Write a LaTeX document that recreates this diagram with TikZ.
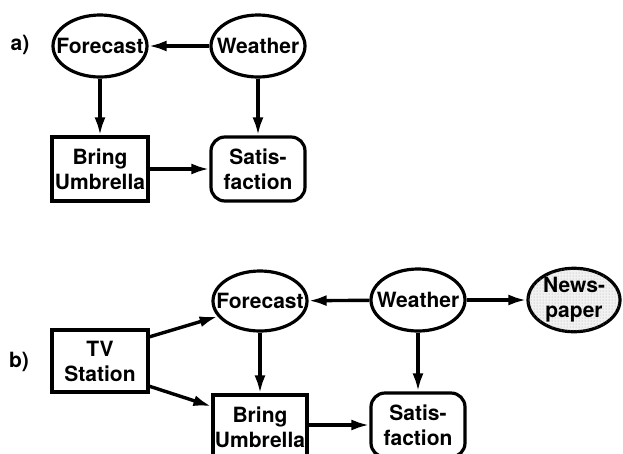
\documentclass[tikz,border=0pt]{standalone}
\usepackage{fontspec}
\setmainfont{TeX Gyre Heros}
\usetikzlibrary{arrows.meta,shapes.geometric,patterns}

\begin{document}
\begin{tikzpicture}[
	x=1pt, y=-1pt,
	every node/.style={font=\bfseries\fontsize{21}{25}\selectfont, align=center, line width=3.2pt, inner sep=1pt},
	chance/.style={draw, ellipse, inner xsep=-11pt, inner ysep=0pt, minimum width=94pt, minimum height=62pt},
	decision/.style={draw, rectangle, minimum width=96pt, minimum height=64pt},
	utility/.style={draw, rounded corners=14pt, minimum width=94pt, minimum height=64pt},
	link/.style={line width=3.4pt, -{Latex[length=18pt,width=11pt]}}
]
\useasboundingbox (0,0) rectangle (623,453);

%% Draw part a)
\node (la) at (20,45) {a)};
\node[chance] (fa) at (100,46) {Forecast};
\node[chance] (wa) at (258,46) {Weather};
\node[decision] (ba) at (100,169) {Bring\\Umbrella};
\node[utility] (sa) at (258,169) {Satis-\\faction};

%% Draw part b)
\node (lb) at (19,362) {b)};
\node[decision, minimum height=62pt] (tv) at (100,361) {TV\\Station};
\node[chance, minimum height=60pt] (fb) at (260,301) {Forecast};
\node[chance] (wb) at (418,300) {Weather};
\node[chance, minimum width=92pt, fill=gray!10, postaction={pattern=dots, pattern color=gray!70}] (nb) at (574,300) {News-\\paper};
\node[decision, minimum width=94pt] (bb) at (260,427) {Bring\\Umbrella};
\node[utility] (sb) at (418,425) {Satis-\\faction};

%% Draw edges
\path
	(wa) edge [link] (fa)
	(fa) edge [link] (ba)
	(wa) edge [link] (sa)
	(ba) edge [link] (sa)
	(wb) edge [link] (fb)
	(wb) edge [link] (nb)
	(tv.26) edge [link] (fb.200)
	(tv.-27) edge [link] (bb.157)
	(fb) edge [link] (bb)
	(wb) edge [link] (sb)
	(bb.east |- sb.west) edge [link] (sb.west)
	;

\end{tikzpicture}
\end{document}
